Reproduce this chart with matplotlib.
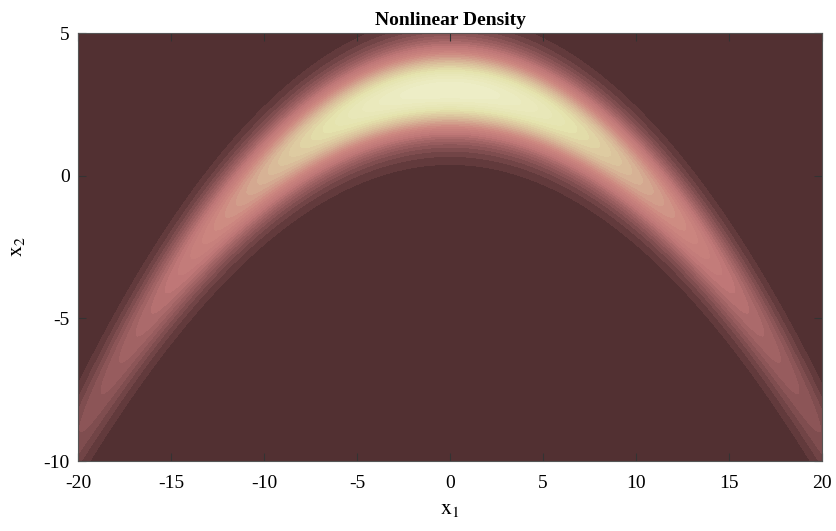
import numpy as np
import matplotlib
matplotlib.use("Agg")
import matplotlib.pyplot as plt
from matplotlib.colors import LinearSegmentedColormap

# banana-shaped (twisted gaussian) density parameters
b = 0.03          # nonlinearity
sig1 = 10.0       # std of x1
sig2 = 1.0        # std of x2 after twist
n_levels = 30

x1_range = [-20, 20]
x2_range = [-10, 5]
x1_ticks = [-20, -15, -10, -5, 0, 5, 10, 15, 20]
x2_ticks = [-10, -5, 0, 5]

# colours (position = relative density)
cmap_pos = [0.0, 0.135, 0.33, 0.45, 0.61, 0.8, 1.0]
cmap_cols = ["#4b2c2e", "#875254", "#c07878", "#cd8780", "#d7b496", "#e4e2ac", "#eeeec8"]

plt.rcParams['font.family'] = ['Liberation Serif', 'DejaVu Serif']
plt.rcParams['mathtext.fontset'] = 'stix'
plt.rcParams['axes.unicode_minus'] = False

x1 = np.linspace(x1_range[0], x1_range[1], 400)
x2 = np.linspace(x2_range[0], x2_range[1], 300)
X1, X2 = np.meshgrid(x1, x2)
Z = np.exp(-0.5 * (X1 / sig1) ** 2 - 0.5 * ((X2 + b * (X1 ** 2 - sig1 ** 2)) / sig2) ** 2)

cmap = LinearSegmentedColormap.from_list("nl", list(zip(cmap_pos, cmap_cols)))

fig = plt.figure(figsize=(8.36, 5.31), dpi=100)
ax = fig.add_axes([0.0933, 0.1318, 0.89, 0.806])
cs = ax.contourf(X1, X2, Z, levels=np.linspace(0, Z.max(), n_levels), cmap=cmap)
cs.set_edgecolor('face')
cs.set_linewidth(0.4)

ax.set_xlim(x1_range)
ax.set_ylim(x2_range)
ax.set_xticks(x1_ticks)
ax.set_yticks(x2_ticks)
ax.tick_params(direction='in', top=True, right=True, length=6, width=0.8,
               labelsize=14, color='#333333')
ax.tick_params(axis='x', pad=10)
ax.tick_params(axis='y', pad=6)
for s in ax.spines.values():
    s.set_color('#555555')
    s.set_linewidth(0.8)

ax.set_title('Nonlinear Density', fontsize=14, fontweight='bold', pad=6)
ax.set_xlabel(r'$\mathrm{x}_1$', fontsize=16, labelpad=6)
ax.set_ylabel(r'$\mathrm{x}_2$', fontsize=16, labelpad=12)

fig.savefig('out.png', dpi=100)
